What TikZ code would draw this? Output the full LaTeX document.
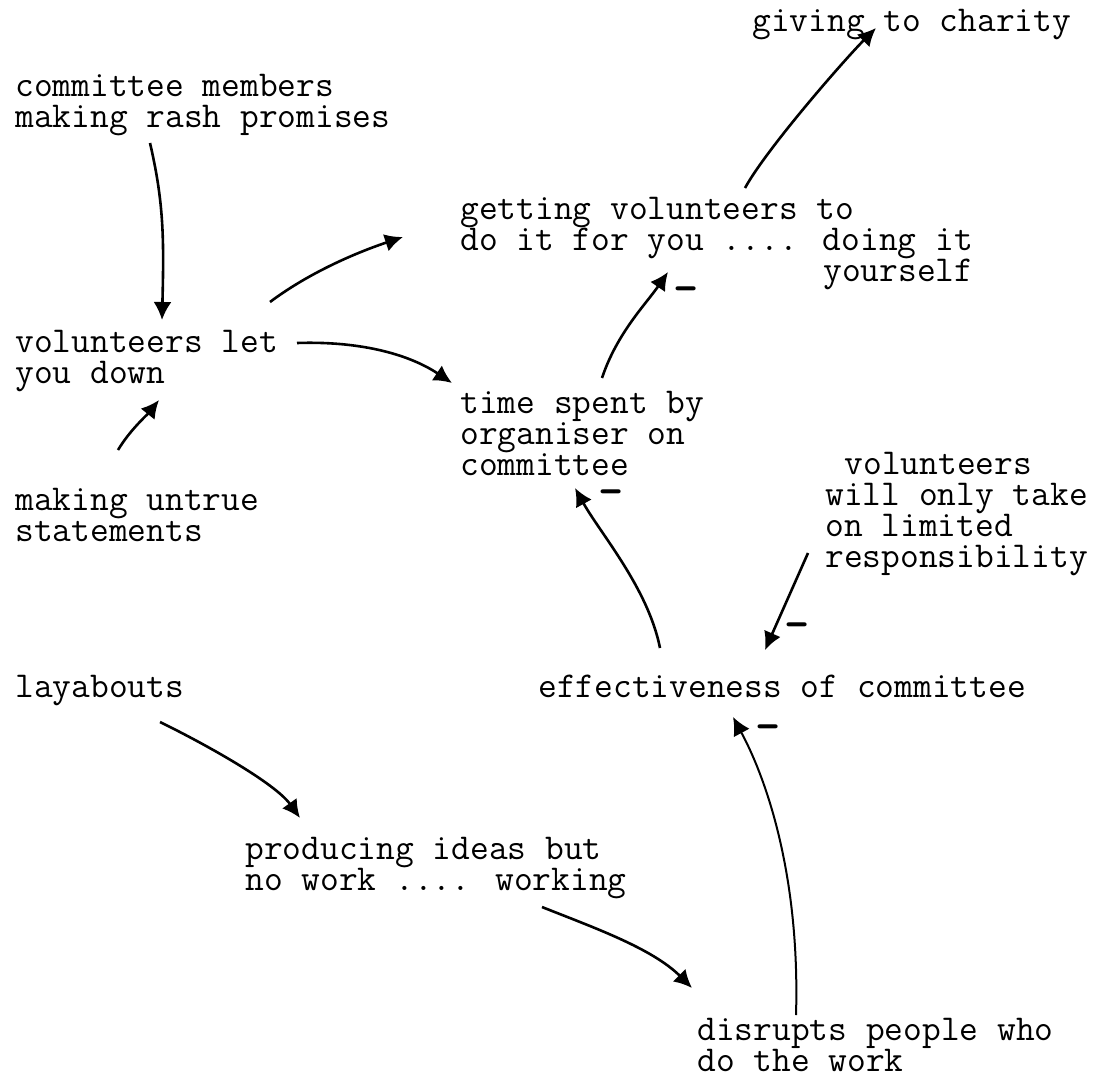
\documentclass[tikz,border=0pt]{standalone}
\usepackage{fontspec}
\usetikzlibrary{arrows.meta}
\begin{document}
\begin{tikzpicture}[x=0.5pt,y=-0.5pt,
  lbl/.style={inner sep=0pt,anchor=base west,align=left,
    font=\ttfamily\addfontfeatures{FakeBold=0.4}\fontsize{18.2}{15.5}\selectfont},
  arr/.style={line width=1.3pt,-{Latex[length=9pt,width=9pt]}},
  neg/.style={inner sep=0pt,font=\ttfamily\bfseries\fontsize{24}{24}\selectfont}]
\useasboundingbox (0,0) rectangle (1106,1085);
% variables (each placed at the baseline of its last line)
\node[lbl] (charity) at (752,32) {giving to charity};
\node[lbl] (rash) at (15,128) {committee members\\making rash promises};
\node[lbl] (getting) at (460,282) {getting volunteers to\\do it for you .... doing it\\\hspace*{9.975em}yourself};
\node[lbl] (letdown) at (15,383) {volunteers let\\you down};
\node[lbl] (time) at (460,475) {time spent by\\organiser on\\committee};
\node[lbl] (untrue) at (15,541) {making untrue\\statements};
\node[lbl] (limited) at (825,567) {\hspace*{0.525em}volunteers\\will only take\\on limited\\responsibility};
\node[lbl] (effect) at (538,697) {effectiveness of committee};
\node[lbl] (layabouts) at (15,697) {layabouts};
\node[lbl] (ideas) at (245,890) {producing ideas but\\no work .... working};
\node[lbl] (disrupts) at (697,1071) {disrupts people who\\do the work};
% causal links
\draw[arr] ([shift={(135,15)}]rash.base west) .. controls +(14,60) and +(2,-80) .. ([shift={(147,-63)}]letdown.base west);
\draw[arr] ([shift={(255,-81)}]letdown.base west) .. controls +(40,-30) and +(-45,15) .. ([shift={(-57,-45)}]getting.base west);
\draw[arr] ([shift={(282,-40)}]letdown.base west) .. controls +(60,-2) and +(-45,-30) .. ([shift={(-8,-92)}]time.base west);
\draw[arr] ([shift={(103,-91)}]untrue.base west) .. controls +(12,-20) and +(-12,15) .. ([shift={(144,17)}]letdown.base west);
\draw[arr] ([shift={(142,-97)}]time.base west) .. controls +(15,-45) and +(-22,32) .. ([shift={(208,-10)}]getting.base west);
\draw[arr] ([shift={(285,-94)}]getting.base west) .. controls +(22,-40) and +(-30,30) .. ([shift={(124,-4)}]charity.base west);
\draw[arr] ([shift={(122,-49)}]effect.base west) .. controls +(-12,-60) and +(25,45) .. ([shift={(115,13)}]time.base west);
\draw[arr] ([shift={(-17,-14)}]limited.base west) -- ([shift={(227,-47)}]effect.base west);
\draw[arr,line width=1pt] ([shift={(99,-56)}]disrupts.base west) .. controls +(4,-136) and +(35,65) .. ([shift={(195,20)}]effect.base west);
\draw[arr] ([shift={(145,25)}]layabouts.base west) .. controls +(45,22) and +(-25,-35) .. ([shift={(55,-72)}]ideas.base west);
\draw[arr] ([shift={(297,17)}]ideas.base west) .. controls +(50,20) and +(-40,-40) .. ([shift={(-5,-83)}]disrupts.base west);
% link polarities
\node[neg] at (686,295) {–};
\node[neg] at (611,498) {–};
\node[neg] at (797,631) {–};
\node[neg] at (768,733) {–};
\end{tikzpicture}
\end{document}
